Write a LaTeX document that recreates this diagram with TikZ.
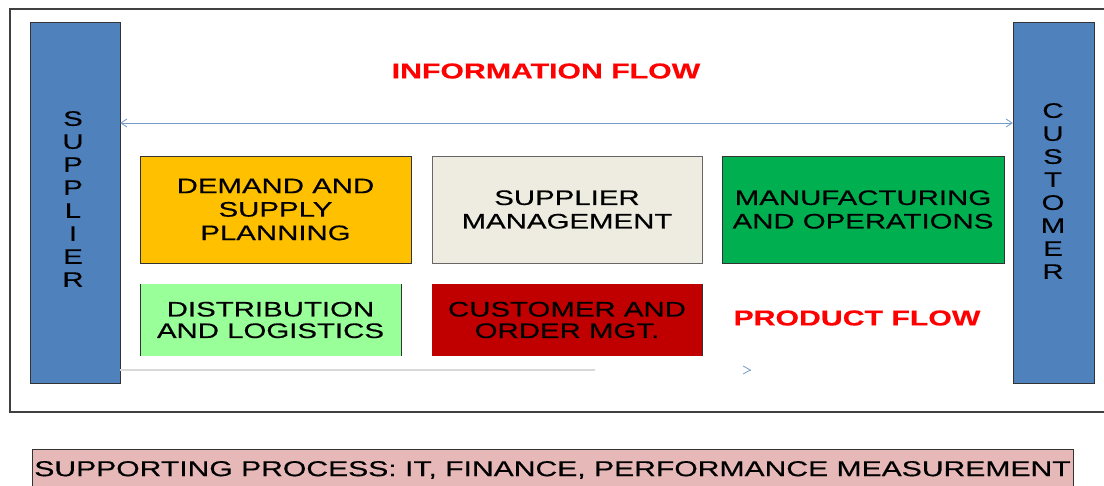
\documentclass[tikz,border=0pt]{standalone}
\usepackage{fontspec}
\setmainfont{Liberation Sans}[FakeStretch=1.4, FakeBold=0.4]
\usetikzlibrary{arrows.meta}
\definecolor{sideblue}{HTML}{4F81BD}
\definecolor{demandcol}{HTML}{FFC000}
\definecolor{suppcol}{HTML}{EEECE1}
\definecolor{manufcol}{HTML}{00B050}
\definecolor{distcol}{HTML}{99FF99}
\definecolor{ordercol}{HTML}{C00000}
\definecolor{supportcol}{HTML}{E6B9B8}
\definecolor{flowred}{HTML}{FF0000}
\begin{document}
\begin{tikzpicture}[x=1pt, y=-1pt,
  every node/.style = {align=center, inner sep=0pt},
  side/.style = {draw=black!80, fill=sideblue, minimum width=#1, minimum height=361},
  letters/.style = {font=\fontsize{21}{23}\selectfont, text=black},
  box/.style = {fill=#1, minimum height=107, font=\fontsize{21}{23.5}\selectfont},
  lowbox/.style = {fill=#1, minimum height=72, font=\fontsize{21}{21.5}\selectfont},
  flow/.style = {text=flowred, font=\fontsize{21.6}{24}\selectfont\bfseries},
  flowarrow/.style = {draw=sideblue!80, line width=0.8pt,
    {Straight Barb[length=6pt,width=8pt]}-{Straight Barb[length=6pt,width=8pt]}}]
  \useasboundingbox (0,0) rectangle (1104,486);
  % outer frame
  \draw[black!75, line width=1.2pt] (10,9) rectangle (1115,412);
  % supplier and customer
  \node[side=90] (supplier) at (75,202.5) {};
  \node[side=81] (customer) at (1053.5,202.5) {};
  \node[letters] (suptxt) at (73,199) {S\\U\\P\\P\\L\\I\\E\\R};
  \node[letters] (custxt) at (1053,191) {C\\U\\S\\T\\O\\M\\E\\R};
  % information flow
  \node[flow] (info) at (546,71) {INFORMATION FLOW};
  \coordinate (infoy) at (0,123);
  \draw[flowarrow] (supplier.east |- infoy) -- (customer.west |- infoy);
  % process boxes
  \node[box=demandcol, draw=black!80, minimum width=271] (demand) at (275.5,209.5)
    {DEMAND AND\\SUPPLY\\PLANNING};
  \node[box=suppcol, draw=black!60, minimum width=270] (suppmgt) at (567,209.5)
    {SUPPLIER\\MANAGEMENT};
  \node[box=manufcol, draw=black!80, minimum width=282] (manuf) at (863,209.5)
    {MANUFACTURING\\AND OPERATIONS};
  \node[lowbox=distcol, minimum width=261] (dist) at (270.5,320)
    {DISTRIBUTION\\AND LOGISTICS};
  \node[lowbox=ordercol, minimum width=270, text=black] (order) at (567,320)
    {CUSTOMER AND\\ORDER MGT.};
  \draw[black!80] (dist.north west) -- (dist.south west)
    (dist.north east) -- (dist.south east)
    (order.north east) -- (order.south east);
  % product flow
  \node[flow] (product) at (857,318) {PRODUCT FLOW};
  \coordinate (prodend) at (595,370);
  \coordinate (prodtip) at (751,370);
  \draw[black!15, line width=1.5pt] (supplier.east |- prodend) -- (prodend);
  \draw[draw=sideblue!80, line width=0.8pt, -{Straight Barb[length=7pt,width=8pt]}]
    ([xshift=-1pt]prodtip) -- (prodtip);
  % supporting process
  \node[draw=black!80, line width=1pt, fill=supportcol, minimum width=1041,
    minimum height=40, font=\fontsize{21.5}{23}\selectfont] (support) at (552.5,470)
    {SUPPORTING PROCESS: IT, FINANCE, PERFORMANCE MEASUREMENT};
\end{tikzpicture}
\end{document}
